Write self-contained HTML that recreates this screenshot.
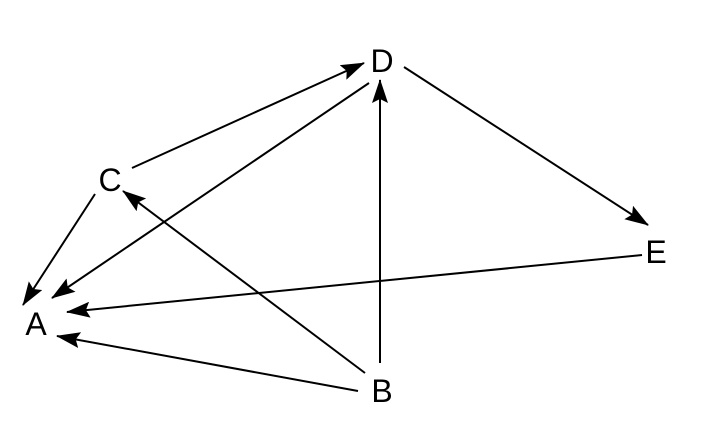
<!DOCTYPE html>
<html><head><style>
html,body{margin:0;padding:0;background:#fff;}
svg{display:block;}
text{font-family:"Liberation Sans","DejaVu Sans",sans-serif;font-size:32px;fill:#000;}
</style></head><body>
<svg width="711" height="422" viewBox="0 0 711 422" xmlns="http://www.w3.org/2000/svg">
<defs>
<marker id="ah" markerWidth="24" markerHeight="16" refX="23" refY="8" orient="auto" markerUnits="userSpaceOnUse">
<path d="M0,0 L24,8 L0,16 L4,8 Z" fill="#000"/>
</marker>
</defs>
<g stroke="#000" stroke-width="2" fill="none" marker-end="url(#ah)">
<line x1="132" y1="168" x2="364" y2="63"/>
<line x1="369" y1="83" x2="52" y2="298"/>
<line x1="95" y1="194" x2="23" y2="305"/>
<line x1="365" y1="373" x2="123" y2="191"/>
<line x1="380" y1="363" x2="380" y2="80"/>
<line x1="404" y1="67" x2="648" y2="225"/>
<line x1="642" y1="255" x2="67" y2="312"/>
<line x1="358" y1="391" x2="57" y2="336"/>
</g>
<text x="382" y="72" text-anchor="middle">D</text>
<text x="110" y="191" text-anchor="middle">C</text>
<text x="656" y="263" text-anchor="middle">E</text>
<text x="36" y="335" text-anchor="middle">A</text>
<text x="382" y="402" text-anchor="middle">B</text>
</svg>
</body></html>
